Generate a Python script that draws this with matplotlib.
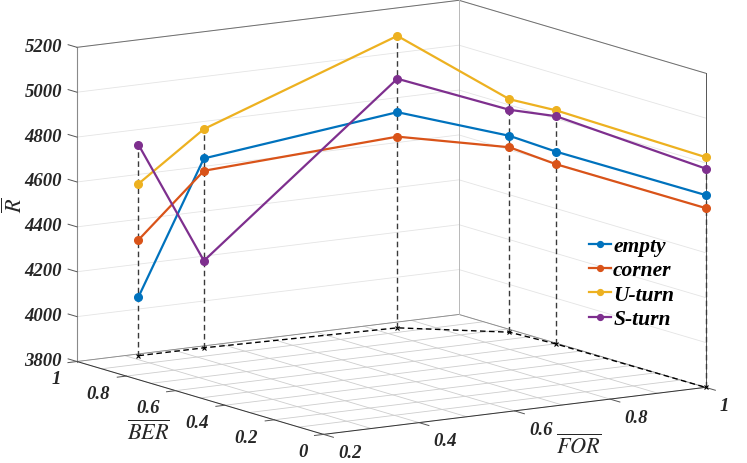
import numpy as np
import matplotlib
matplotlib.use('Agg')
import matplotlib.pyplot as plt
from mpl_toolkits.mplot3d import proj3d

# operating points (FOR, BER) and mean reward for every scenario
FOR = [0.32, 0.456, 0.842, 0.986, 0.996, 1.0]
BER = [0.983, 0.981, 0.944, 0.768, 0.598, 0.0]
R_empty = [4062, 4644, 4761, 4675, 4657, 4657]
R_corner = [4316, 4589, 4652, 4624, 4601, 4599]
R_uturn = [4566, 4775, 5101, 4838, 4841, 4826]
R_sturn = [4740, 4188, 4910, 4791, 4815, 4775]
names = ['empty', 'corner', 'U-turn', 'S-turn']
colors = ['#0072BD', '#D95319', '#EDB120', '#7E2F8E']

zticks = [3800, 4000, 4200, 4400, 4600, 4800, 5000, 5200]
xticks = [0.2, 0.4, 0.6, 0.8, 1.0]
yticks = [0, 0.2, 0.4, 0.6, 0.8, 1.0]
xtick_lbl = ['0.2', '0.4', '0.6', '0.8', '1']
ytick_lbl = ['0', '0.2', '0.4', '0.6', '0.8', '1']

serif = ['Liberation Serif', 'STIXGeneral', 'DejaVu Serif']
plt.rcParams['font.family'] = serif
plt.rcParams['mathtext.fontset'] = 'stix'

W, H = 747, 464
fig = plt.figure(figsize=(W / 100, H / 100), dpi=100)
ax = fig.add_axes([0.1, 0.1, 0.8, 0.8], projection='3d', proj_type='ortho')
ax.set_xlim(0.2, 1)
ax.set_ylim(0, 1)
ax.set_zlim(3800, 5200)
ax.set_box_aspect((1, 1, 0.704))
ax.view_init(elev=11, azim=-122.84)
ax.set_axis_off()
ax.computed_zorder = False

z0, z1 = 3800, 5200
x0, x1 = 0.2, 1.0


def label3(x, y, z, s, **kw):
    # 2D text anchored at the projection of a 3D point
    xs, ys, _ = proj3d.proj_transform(x, y, z, ax.get_proj())
    ax.text2D(xs, ys, s, transform=ax.transData, **kw)


# floor grid (every 0.1)
for f in np.arange(0.2, 1.0001, 0.1):
    ax.plot([f, f], [0, 1], [z0, z0], color='#cdcdcd', lw=0.6, zorder=1)
for b in np.arange(0, 1.0001, 0.1):
    ax.plot([x0, x1], [b, b], [z0, z0], color='#cdcdcd', lw=0.6, zorder=1)
# z grid on the two back walls
for z in zticks[1:]:
    ax.plot([x0, x1, x1], [1, 1, 0], [z, z, z], color='#e4e4e4', lw=0.6, zorder=1)

# box (back edges only) and axis lines
ax.plot([x0, x1, x1], [1, 1, 0], [z0, z0, z0], color='#8a8a8a', lw=0.6, zorder=2)
ax.plot([x0, x1, x1], [1, 1, 0], [z1, z1, z1], color='#6e6e6e', lw=0.7, zorder=2)
ax.plot([x1, x1], [1, 1], [z0, z1], color='#b8b8b8', lw=0.7, zorder=2)
ax.plot([x1, x1], [0, 0], [z0, z1], color='#555555', lw=0.7, zorder=2)
ax.plot([x0, x0], [1, 1], [z0, z1], color='#8a8a8a', lw=0.8, zorder=2)
ax.plot([x0, x0], [0, 1], [z0, z0], color='#333333', lw=0.7, zorder=2)
ax.plot([x0, x1], [0, 0], [z0, z0], color='#333333', lw=0.7, zorder=2)

tick_font = dict(family=serif, weight='bold', style='italic', size=13.5, color='#262626')
for z in zticks:
    ax.plot([x0, x0], [1, 1.036], [z, z], color='#555555', lw=0.7, zorder=2)
    label3(x0, 1.061, z - 15, str(z), ha='right', va='center', **tick_font)
for b, s in zip(yticks, ytick_lbl):
    ax.plot([x0, x0 - 0.019], [b, b], [z0, z0], color='#555555', lw=0.7, zorder=2)
    label3(x0 - 0.034, b, z0 - 68, s, ha='right', va='center', **tick_font)
for f, s in zip(xticks, xtick_lbl):
    ax.plot([f, f], [0, -0.04], [z0, z0], color='#555555', lw=0.7, zorder=2)
    label3(f, -0.059, z0 - 62, s, ha='left', va='center', **tick_font)

# stems from the highest point down to the floor
series = [R_empty, R_corner, R_uturn, R_sturn]
top = np.max(np.array(series), axis=0)
for f, b, t in zip(FOR, BER, top):
    ax.plot([f, f], [b, b], [z0, t], color='#3a3a3a', lw=1.0, ls=(0, (4, 2.5)), zorder=3)
ax.plot(FOR, BER, [z0] * len(FOR), color='k', lw=1.0, ls=(0, (4, 2.5)),
        marker='x', ms=3.5, mew=0.8, zorder=3)

handles = []
for r, c, n in zip(series, colors, names):
    h, = ax.plot(FOR, BER, r, '-o', color=c, lw=1.6, ms=5.5, label=n, zorder=5)
    handles.append(h)

# fit the projected box to the target frame
fig.canvas.draw()


def to_px(x, y, z):
    xs, ys, _ = proj3d.proj_transform(x, y, z, ax.get_proj())
    px, py = ax.transData.transform((xs, ys))
    return px, H - py


pos = ax.get_position()
S0 = pos.width * W
cx0 = (pos.x0 + pos.x1) / 2 * W
cy0 = H - (pos.y0 + pos.y1) / 2 * H
pa = to_px(x0, 1, z0)
pb = to_px(x1, 0, z0)
r = (705.5 - 77.0) / (pb[0] - pa[0])
S = S0 * r
cx = 77.0 - r * (pa[0] - cx0)
cy = 362.5 - r * (pa[1] - cy0)
ax.set_position([(cx - S / 2) / W, 1 - (cy + S / 2) / H, S / W, S / H])

fig.text(14.5 / W, 1 - 205 / H, r'$\overline{R}$', rotation=90, ha='center', va='center',
         fontsize=16, color='#262626')
fig.text(148 / W, 1 - 433 / H, r'$\overline{BER}$', ha='center', va='center',
         fontsize=16, color='#262626')
fig.text(579 / W, 1 - 447 / H, r'$\overline{FOR}$', ha='center', va='center',
         fontsize=16, color='#262626')

leg = fig.legend(handles=handles, loc='upper left', bbox_to_anchor=(589 / W, 1 - 237 / H),
                 frameon=False, borderpad=0, borderaxespad=0, handlelength=1.0,
                 handletextpad=0.12, labelspacing=0.2,
                 prop=dict(family=serif, weight='bold', style='italic', size=15.5))
for ln in leg.get_lines():
    ln.set_markersize(4.2)

fig.savefig('out.png', dpi=100)
